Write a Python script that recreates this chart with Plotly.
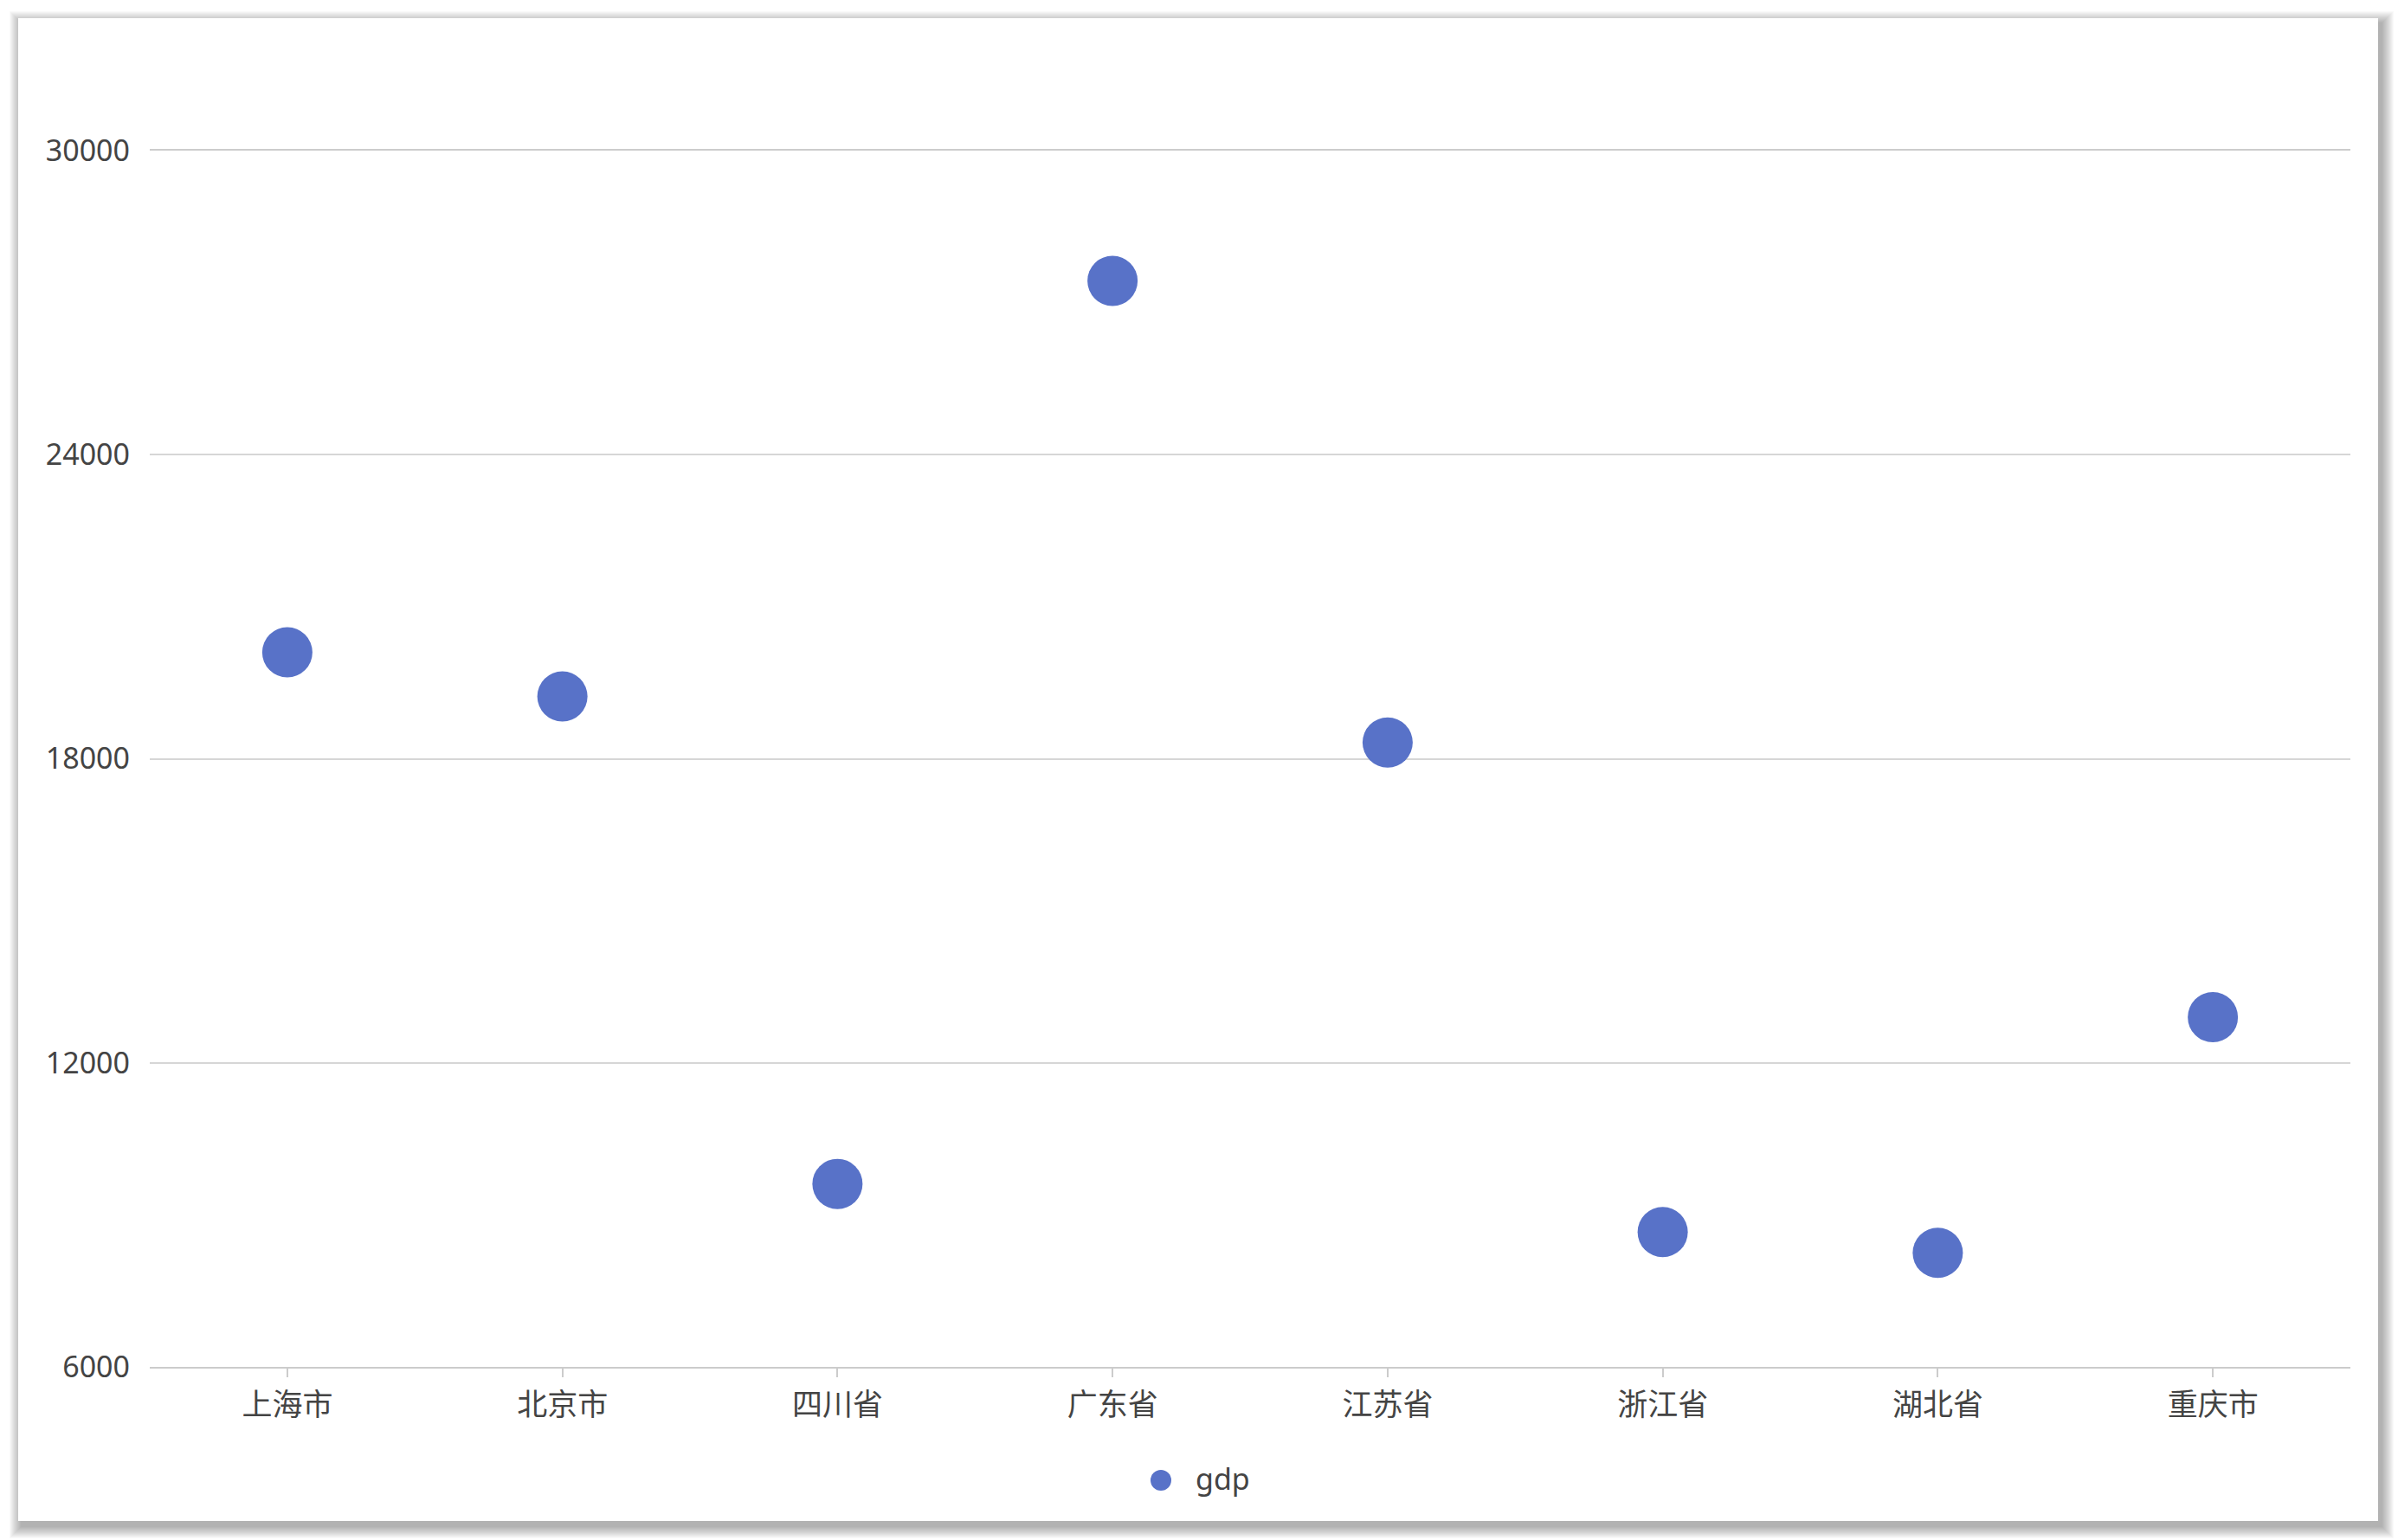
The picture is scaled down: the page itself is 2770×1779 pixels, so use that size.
import plotly.graph_objects as go

categories = ["上海市", "北京市", "四川省", "广东省", "江苏省", "浙江省", "湖北省", "重庆市"]
gdp = [20100, 19230, 9610, 27430, 18320, 8660, 8250, 12900]
y_ticks = [6000, 12000, 18000, 24000, 30000]
series_name = "gdp"
series_color = "#5872c8"

W, H = 2770, 1779
ML, MR, MT, MB = 173, 55, 174, 200
PW, PH = W - ML - MR, H - MT - MB


def px_x(p):
    return (p - ML) / PW


def px_y(p):
    return 1 - (p - MT) / PH


card = dict(L=21, T=21, R=2747, B=1757)
shapes = []
N = 14
for k in range(N, 0, -1):
    dx, dy = 4, 6
    shapes.append(dict(
        type="rect", xref="paper", yref="paper", layer="below",
        x0=px_x(card["L"] - k + dx), x1=px_x(card["R"] + k + dx),
        y0=px_y(card["B"] + k + dy), y1=px_y(card["T"] - k + dy),
        fillcolor="rgba(0,0,0,0.022)", line=dict(width=0),
    ))
shapes.append(dict(
    type="rect", xref="paper", yref="paper", layer="below",
    x0=px_x(card["L"]), x1=px_x(card["R"]),
    y0=px_y(card["B"]), y1=px_y(card["T"]),
    fillcolor="#ffffff", line=dict(width=0),
))

# legend (custom, to get a larger symbol than Plotly's capped legend marker)
leg_cx, leg_cy, leg_r = 1341, 1710, 12
shapes.append(dict(
    type="circle", xref="paper", yref="paper", layer="above",
    x0=px_x(leg_cx - leg_r), x1=px_x(leg_cx + leg_r),
    y0=px_y(leg_cy + leg_r), y1=px_y(leg_cy - leg_r),
    fillcolor=series_color, line=dict(width=0),
))

fig = go.Figure()
fig.add_trace(go.Scatter(
    x=categories, y=gdp, mode="markers", name=series_name,
    marker=dict(color=series_color, size=58, line=dict(width=0)),
    showlegend=False,
))

font_family = "Noto Sans, Noto Sans CJK SC, sans-serif"
fig.update_layout(
    width=W, height=H,
    margin=dict(l=ML, r=MR, t=MT, b=MB, pad=0),
    paper_bgcolor="#ffffff",
    plot_bgcolor="rgba(0,0,0,0)",
    font=dict(family=font_family, size=32, color="#444444"),
    shapes=shapes,
    showlegend=False,
    annotations=[dict(
        text=series_name, xref="paper", yref="paper",
        x=px_x(1379), y=px_y(1708), xanchor="left", yanchor="middle",
        showarrow=False, font=dict(size=34, color="#444444"),
    )],
    xaxis=dict(
        type="category", range=[-0.5, len(categories) - 0.5],
        showgrid=False, zeroline=False,
        showline=True, linecolor="#cccccc", linewidth=2, mirror=True,
        ticks="outside", ticklen=10, tickwidth=2, tickcolor="#cccccc",
        ticklabelstandoff=2,
        tickfont=dict(size=35, color="#444444"),
        fixedrange=True,
    ),
    yaxis=dict(
        range=[6000, 30000], tickvals=y_ticks, tickformat="d",
        showgrid=True, gridcolor="#d6d6d6", gridwidth=2,
        zeroline=False, showline=False, ticks="",
        ticklabelstandoff=22,
        tickfont=dict(size=34, color="#444444"),
        fixedrange=True,
    ),
)

fig.write_html("out.html", post_script="document.body.style.margin='0';",
               config={"displayModeBar": False})
